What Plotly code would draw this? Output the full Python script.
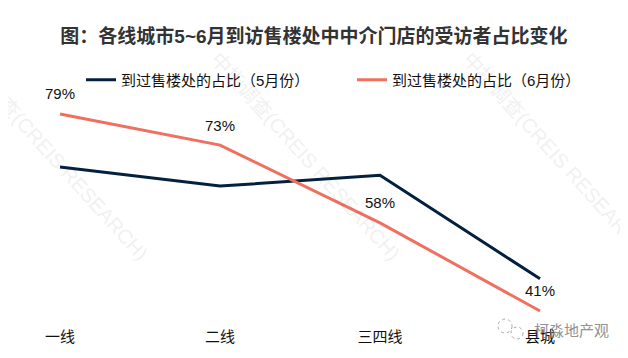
import plotly.graph_objects as go

categories = ["一线", "二线", "三四线", "县城"]
may_share = [68.8, 65.1, 67.2, 47.2]
june_share = [79, 73, 58, 41]
june_labels = ["79%", "73%", "58%", "41%"]
may_name = "到过售楼处的占比（5月份）"
june_name = "到过售楼处的占比（6月份）"
title_text = "图：各线城市5~6月到访售楼处中中介门店的受访者占比变化"
watermark = "中指调查(CREIS RESEARCH)"
logo_text = "柯淼地产观"
FONT = "Liberation Sans, Noto Sans CJK SC, sans-serif"

W, H = 620, 350
L, R, T, B = 0, 0, 20, 38
PW, PH = W - L - R, H - T - B


def px(x):
    return (x - 8 - L) / PW


def py(y):
    return 1 - (y - 8 - T) / PH


fig = go.Figure()
fig.add_trace(go.Scatter(x=categories, y=may_share, mode="lines", name=may_name,
                         line=dict(color="#04203F", width=3), legend="legend"))
fig.add_trace(go.Scatter(x=categories, y=june_share, mode="lines", name=june_name,
                         line=dict(color="#F0705F", width=3), legend="legend2"))

annotations = []
for i, (c, v, t) in enumerate(zip(categories, june_share, june_labels)):
    annotations.append(dict(x=c, y=v, text=t, showarrow=False, xref="x", yref="y",
                            yshift=[21, 20, 20, 20][i],
                            font=dict(size=15, color="#111111", family=FONT)))
for cx, cy in [(53, 156), (305, 156), (557, 156)]:
    annotations.append(dict(xref="paper", yref="paper", x=px(cx), y=py(cy),
                            xanchor="center", yanchor="middle",
                            text=watermark, showarrow=False, textangle=48, opacity=0.07,
                            font=dict(size=20, color="#444444", family=FONT)))
annotations.append(dict(xref="paper", yref="paper", x=px(571), y=py(330),
                        xanchor="center", yanchor="middle",
                        text=logo_text, showarrow=False, opacity=0.8,
                        font=dict(size=15, color="#777777", family=FONT)))

shapes = []
for cx, cy, r in [(505, 326, 7), (517, 333, 6)]:
    shapes.append(dict(type="circle", xref="paper", yref="paper",
                       x0=px(cx - r), x1=px(cx + r), y0=py(cy + r), y1=py(cy - r),
                       line=dict(color="#AAAAAA", width=1, dash="dot")))

legend_font = dict(size=15, color="#111111", family=FONT)
fig.update_layout(
    width=W, height=H, margin=dict(l=L, r=R, t=T, b=B),
    paper_bgcolor="white", plot_bgcolor="white",
    title=dict(text="<b>" + title_text + "</b>", x=0.4935, xanchor="center", xref="container",
               y=0.918, yanchor="middle",
               font=dict(size=19, color="#333333", family=FONT)),
    showlegend=True,
    legend=dict(orientation="h", x=px(81), y=py(80), xanchor="left", yanchor="middle",
                bgcolor="rgba(0,0,0,0)", font=legend_font),
    legend2=dict(orientation="h", x=px(352), y=py(80), xanchor="left", yanchor="middle",
                 bgcolor="rgba(0,0,0,0)", font=legend_font),
    xaxis=dict(type="category", range=[-0.325, 3.55], showgrid=False, zeroline=False, showline=False,
               ticks="outside", ticklen=3, tickcolor="rgba(0,0,0,0)",
               tickfont=dict(size=15, color="#111111", family=FONT)),
    yaxis=dict(range=[39.26, 95.6], visible=False),
    annotations=annotations,
    shapes=shapes,
)
fig.write_html("out.html")
